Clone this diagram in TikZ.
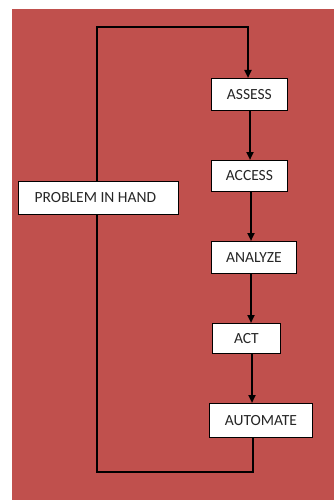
\documentclass[tikz,border=0pt]{standalone}
\usepackage{fontspec}
\setmainfont{Carlito}
\usetikzlibrary{arrows.meta}
\definecolor{panelred}{HTML}{C0504D}
\definecolor{inktext}{HTML}{262626}
\begin{document}
\begin{tikzpicture}[x=1pt,y=-1pt,
  stepbox/.style={draw=black,line width=0.8pt,fill=white,text=inktext,
    font=\fontsize{15.5}{17}\selectfont,inner sep=0pt,anchor=north west},
  flow/.style={draw=black,line width=2pt,-{Triangle[length=8pt,width=7pt]}},
  loop/.style={draw=black,line width=1.1pt}]
\useasboundingbox (0,0) rectangle (334,500);
\fill[white] (0,0) rectangle (334,500);
\fill[panelred] (12,9) rectangle (334,500);
% process steps
\node[stepbox,minimum width=76pt,minimum height=32pt] (assess) at (211,78) {ASSESS};
\node[stepbox,minimum width=76pt,minimum height=31pt] (access) at (211,160) {ACCESS};
\node[stepbox,minimum width=85pt,minimum height=32pt] (analyze) at (211,241) {ANALYZE};
\node[stepbox,minimum width=68pt,minimum height=30pt] (act) at (212,323) {ACT};
\node[stepbox,minimum width=103pt,minimum height=34pt] (automate) at (209,403) {AUTOMATE};
\node[stepbox,minimum width=160pt,minimum height=33pt] (problem) at (18,181) {\hspace*{-6pt}PROBLEM IN HAND};
% feedback loop corners
\coordinate (bl) at (97,472);
\coordinate (br) at (253,472);
\coordinate (tl) at (97,27);
\coordinate (tr) at (248,27);
% feedback loop from AUTOMATE back to ASSESS
\draw[loop] (automate.south -| br) -- (br) -- (bl) -- (problem.south -| bl);
\draw[loop] (problem.north -| tl) -- (tl) -- (tr) -- (tr |- 60,60);
\draw[flow] (tr |- 60,58) -- (tr |- assess.north);
% forward steps
\draw[flow] (assess.south -| 250,0) -- (access.north -| 250,0);
\draw[flow] (access.south -| 251,0) -- (analyze.north -| 251,0);
\draw[flow] (analyze.south -| 251,0) -- (act.north -| 251,0);
\draw[flow] (act.south -| 252,0) -- (automate.north -| 252,0);
\end{tikzpicture}
\end{document}
